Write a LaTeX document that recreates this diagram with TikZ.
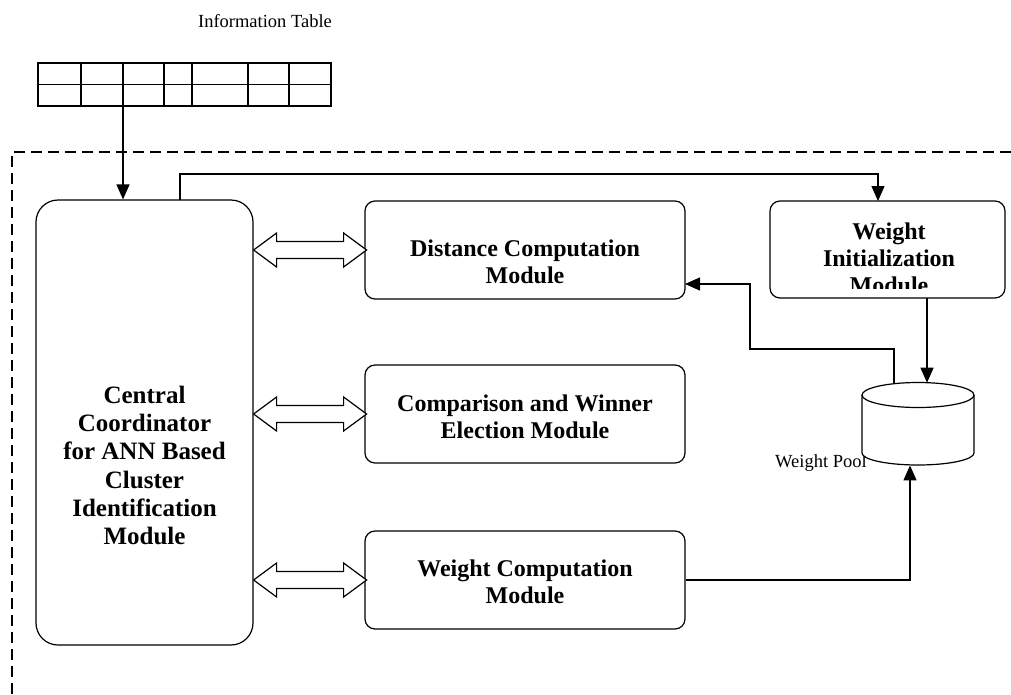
\documentclass[tikz,border=0pt]{standalone}
\usepackage{fontspec}
\setmainfont{Liberation Serif}
\usetikzlibrary{arrows.meta,calc}
\begin{document}
\begin{tikzpicture}[x=1pt,y=-1pt,
  line width=1.2pt,
  modbox/.style={draw, rounded corners=10pt, inner sep=0pt,
    minimum width=320pt, minimum height=98pt},
  modtext/.style={inner sep=0pt, align=center,
    font=\bfseries\fontsize{24}{27}\selectfont},
  lbl/.style={inner sep=0pt, font=\fontsize{18.5}{20}\selectfont},
  arr/.style={-{Triangle[length=15pt,width=13pt]}},
  dbl/.style={line width=1.2pt, fill=white},
  dashline/.style={dash pattern=on 11pt off 6pt, line width=1.1pt}]
\useasboundingbox (0,0) rectangle (1011,694);

% labels
\node[lbl] (infolbl) at (265,21) {Information Table};
\node[lbl] (poollbl) at (821,463) {Weight Pool};

% information table
\node[draw, minimum width=293pt, minimum height=43pt, inner sep=0pt] (table) at (184.5,84.5) {};
\draw (table.west) -- (table.east);
\foreach \x in {81,123,164,192,248,289} \draw (\x,63) -- (\x,106);

% dashed boundary
\draw[dashline] (1011,152) -- (12,152) -- (12,694);

% central coordinator
\node[draw, rounded corners=22pt, inner sep=0pt, minimum width=217pt, minimum height=445pt] (central) at (144.5,422.5) {};
\node[inner sep=0pt, align=center, font=\bfseries\fontsize{25}{28.2}\selectfont] (centraltext) at ($(central)+(0,43)$)
  {Central\\Coordinator\\for ANN Based\\Cluster\\Identification\\Module};

% modules
\node[modbox] (dist) at (525,250) {};
\node[modtext] (disttext) at ($(dist)+(0,12)$) {Distance Computation\\Module};
\node[modbox] (comp) at (525,414) {};
\node[modtext] (comptext) at ($(comp)+(0,2.5)$) {Comparison and Winner\\Election Module};
\node[modbox] (wcomp) at (525,580) {};
\node[modtext] (wcomptext) at ($(wcomp)+(0,1.5)$) {Weight Computation\\Module};
\node[draw, rounded corners=10pt, inner sep=0pt, minimum width=235pt, minimum height=97pt] (winit) at (887.5,249.5) {};
\begin{scope}
  \clip (771,202) rectangle (1004,288);
  \node[modtext] (winittext) at (889,258) {Weight\\Initialization\\Module};
\end{scope}

% weight pool cylinder
\coordinate (pool) at (918,424);
\draw[fill=white] (862,395) -- (862,453) arc[start angle=180, end angle=360, x radius=56pt, y radius=12pt] -- (974,395);
\draw (918,395) ellipse[x radius=56pt, y radius=12.5pt];

% double arrows
\foreach \n in {dist,comp,wcomp}{
  \draw[dbl] (central.east |- \n.west) -- ++(23,-17) -- ++(0,8.5) -- ++(67,0) -- ++(0,-8.5)
    -- ++(23,17) -- ++(-23,17) -- ++(0,-8.5) -- ++(-67,0) -- ++(0,8.5) -- cycle;
}

% connectors
\coordinate (t1) at (123,106);
\draw[arr] (t1) -- (t1 |- central.north);
\coordinate (c1) at (180,200);
\coordinate (wi1) at (878,201);
\draw[arr] (c1) -- (180,174) -- (wi1 |- 0,174) -- (wi1);
\coordinate (wi2) at (927,298);
\coordinate (p1) at (927,382.7);
\draw[arr] (wi2) -- (p1);
\coordinate (p2) at (894,383.7);
\coordinate (d1) at (685,284);
\draw[arr] (p2) -- (894,349) -- (750,349) -- (750,284) -- (d1);
\coordinate (p3) at (910,465.4);
\draw[arr] (wcomp.east) -- (p3 |- wcomp.east) -- (p3);
\end{tikzpicture}
\end{document}
